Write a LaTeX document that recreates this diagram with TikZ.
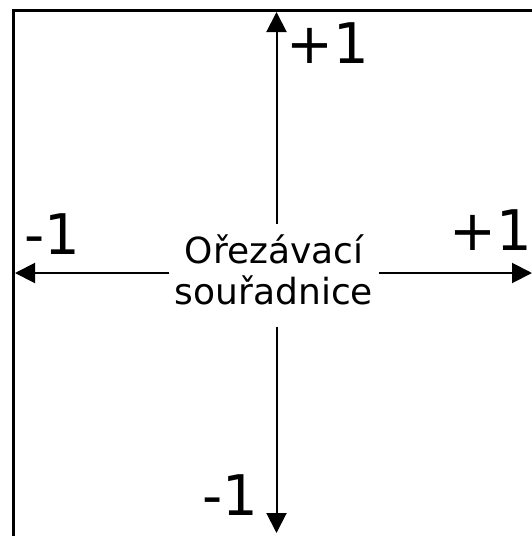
\documentclass[tikz,border=0pt]{standalone}
\usepackage{fontspec}
\setmainfont{DejaVu Sans}
\usepackage{tikz}
\usetikzlibrary{arrows.meta,positioning}

\begin{document}
\begin{tikzpicture}[x=0.75pt,y=-0.75pt,
lbl/.style={inner xsep=4pt,inner ysep=8pt,align=center,font=\fontsize{27}{30.5}\selectfont},num/.style={inner sep=0pt,anchor=base west,font=\fontsize{42}{48}\selectfont},arr/.style={-{Triangle[length=15pt,width=15pt]},line width=1.5pt}]
\useasboundingbox (0,0) rectangle (532,536);
\draw[line width=2.6pt] (13.5,10.5) rectangle (536,537.5);
\node[lbl] (clip) at (274,270) {Ořezávací\\souřadnice};
\coordinate (top) at (276.5,12); \coordinate (bot) at (276.5,533);
\coordinate (lft) at (15,273); \coordinate (rgt) at (532,273);
\node[num] (ptop) at (286,63) {+1};
\node[num] (plft) at (24,254) {-1};
\node[num] (prgt) at (449,250) {+1};
\node[num] (pbot) at (202,515) {-1};
\draw[arr] (clip.north -| top)--(top); \draw[arr,shorten <=8pt] (clip.south -| bot)--(bot);
\draw[arr] (clip.west |- lft)--(lft); \draw[arr] (clip.east |- rgt)--(rgt);
\end{tikzpicture}
\end{document}
